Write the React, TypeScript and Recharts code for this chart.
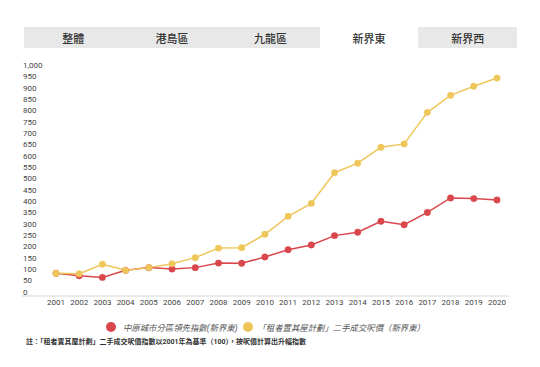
import { LineChart, Line, XAxis, YAxis } from 'recharts';

const years = ['2001', '2002', '2003', '2004', '2005', '2006', '2007', '2008', '2009', '2010',
  '2011', '2012', '2013', '2014', '2015', '2016', '2017', '2018', '2019', '2020'];
const cclIndex = [100, 89, 82, 113, 125, 119, 125, 145, 144, 172, 204, 225, 266, 281, 329, 314, 368, 432, 429, 423];
const tpsPrice = [100, 98, 140, 113, 125, 142, 169, 211, 213, 272, 351, 408, 543, 585, 655, 670, 809, 884, 924, 960];
const yTicks = [0, 50, 100, 150, 200, 250, 300, 350, 400, 450, 500, 550, 600, 650, 700, 750, 800, 850, 900, 950, 1000];
const tabs = ['整體', '港島區', '九龍區', '新界東', '新界西'];
const activeTab = '新界東';
const seriesNames = ['中原城市分區領先指數(新界東)', '「租者置其屋計劃」二手成交呎價（新界東）'];
const note = '註：「租者置其屋計劃」二手成交呎價指數以2001年為基準（100），按呎價計算出升幅指數';

const RED = '#d9464b';
const YELLOW = '#efc65a';
const FONT = 'Roboto, "Noto Sans CJK TC", sans-serif';

const data = years.map((y, i) => ({ year: y, ccl: cclIndex[i], tps: tpsPrice[i] }));

const renderYTick = (props: any) => {
  const { y, payload } = props;
  return (
    <text key={`yt-${payload.value}`} x={23} y={y - 4} dy="0.35em" textAnchor="start" fontSize={8} fill="#444" fontFamily={FONT}>
      {Number(payload.value).toLocaleString('en-US')}
    </text>
  );
};

export default function App() {
  return (
    <div style={{ position: 'absolute', left: 0, top: 0, width: 540, height: 367, background: '#fff', fontFamily: FONT }}>
      {/* tab bar */}
      <div style={{ position: 'absolute', left: 24, top: 27, width: 493, height: 21, background: '#e8e8e8', display: 'flex' }}>
        {tabs.map(t => (
          <div
            key={t}
            style={{
              flex: 1,
              display: 'flex',
              alignItems: 'center',
              justifyContent: 'center',
              fontSize: 11,
              fontWeight: 500,
              color: '#333',
              background: t === activeTab ? '#fff' : 'transparent',
            }}
          >
            {t}
          </div>
        ))}
      </div>

      <div style={{ position: 'absolute', left: 0, top: 0 }}>
        <LineChart width={540} height={320} data={data} margin={{ top: 69, right: 31, bottom: 0, left: 21 }}>
          <XAxis
            dataKey="year"
            height={24}
            padding={{ left: 34, right: 12 }}
            tickLine={false}
            tickSize={0}
            tickMargin={3}
            interval={0}
            axisLine={{ stroke: '#e3e3e3', strokeWidth: 1.5 }}
            tick={{ fontSize: 8, fill: '#444', fontFamily: FONT }}
          />
          <YAxis
            width={1}
            domain={[0, 1000]}
            ticks={yTicks}
            interval={0}
            axisLine={false}
            tickLine={false}
            tick={renderYTick}
          />
          <Line
            dataKey="ccl"
            stroke={RED}
            strokeWidth={1.5}
            dot={{ r: 3.2, fill: RED, stroke: RED, strokeWidth: 0.5 }}
            isAnimationActive={false}
          />
          <Line
            dataKey="tps"
            stroke={YELLOW}
            strokeWidth={1.5}
            dot={{ r: 3.2, fill: YELLOW, stroke: YELLOW, strokeWidth: 0.5 }}
            isAnimationActive={false}
          />
        </LineChart>
      </div>

      {/* legend */}
      <div style={{ position: 'absolute', left: 106, top: 320, height: 14, display: 'flex', alignItems: 'center', fontSize: 8.4, color: '#555', fontStyle: 'italic', whiteSpace: 'nowrap' }}>
        <span style={{ width: 10, height: 10, borderRadius: 5, background: RED, display: 'inline-block', marginRight: 7 }} />
        <span style={{ marginRight: 5 }}>{seriesNames[0]}</span>
        <span style={{ width: 10, height: 10, borderRadius: 5, background: YELLOW, display: 'inline-block', marginRight: 5 }} />
        <span>{seriesNames[1]}</span>
      </div>

      <div style={{ position: 'absolute', left: 26, top: 336, fontSize: 7, fontWeight: 700, color: '#333', whiteSpace: 'nowrap' }}>
        {note}
      </div>
    </div>
  );
}
